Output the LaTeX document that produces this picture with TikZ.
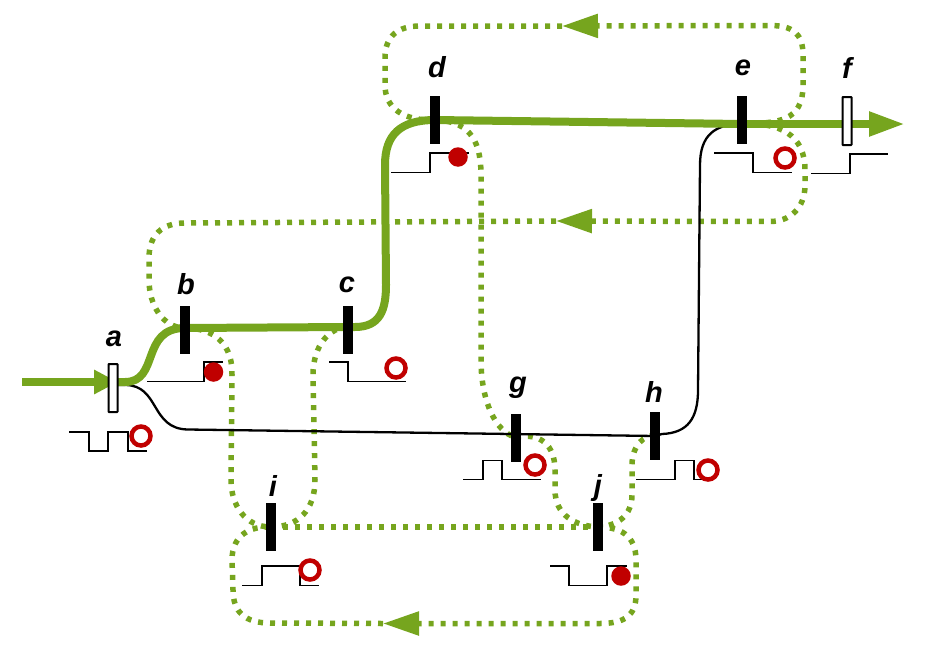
\documentclass[tikz,border=0pt]{standalone}
\usepackage{fontspec}
\setmainfont{Liberation Sans}
\usetikzlibrary{arrows.meta,backgrounds}
\definecolor{flowgreen}{HTML}{76A51E}
\definecolor{markred}{HTML}{C00000}
\tikzset{
  x=1pt,y=-1pt,
  gatebar/.style={fill=black,draw=none,minimum width=10pt,minimum height=48pt,inner sep=0pt,outer sep=0pt},
  openbar/.style={fill=white,draw=black,line width=2pt,minimum width=9pt,minimum height=48pt,inner sep=0pt,outer sep=0pt,rounded corners=0.5pt},
  lbl/.style={font=\fontsize{29}{29}\selectfont\bfseries\itshape,inner sep=0pt,text=black},
  mainflow/.style={draw=flowgreen,line width=8pt},
  thinflow/.style={draw=black,line width=2.3pt},
  dotflow/.style={draw=flowgreen,line width=5.5pt,dash pattern=on 5pt off 7pt},
  dottip/.style={-{Triangle[length=36pt,width=23pt,fill=flowgreen]}},
  wave/.style={draw=black,line width=1.3pt},
  openmark/.style={circle,draw=markred,line width=4.5pt,fill=white,minimum size=19pt,inner sep=0pt},
  fullmark/.style={circle,fill=markred,draw=none,minimum size=19.5pt,inner sep=0pt},
}
\begin{document}
\begin{tikzpicture}
\useasboundingbox (0,0) rectangle (928,653);
% transitions
\node[openbar] (a) at (113,388) {};
\node[gatebar] (b) at (185,330) {};
\node[gatebar] (c) at (348,330) {};
\node[gatebar] (d) at (435,119.5) {};
\node[gatebar] (e) at (742,119.5) {};
\node[openbar] (f) at (847,121) {};
\node[gatebar] (g) at (516,437.5) {};
\node[gatebar] (h) at (655,436) {};
\node[gatebar] (i) at (271,527) {};
\node[gatebar] (j) at (598,527) {};
% labels
\node[lbl] (la) at (114,339) {a};
\node[lbl] (lb) at (186,284) {b};
\node[lbl] (lc) at (347,285) {c};
\node[lbl] (ld) at (437,67) {d};
\node[lbl] (le) at (743,68) {e};
\node[lbl] (lf) at (847,68) {f};
\node[lbl] (lg) at (518,388) {g};
\node[lbl] (lh) at (654,392) {h};
\node[lbl] (li) at (273,486) {i};
\node[lbl] (lj) at (598,488) {j};
% free ends and arrow points
\coordinate (in) at (22,382);
\coordinate (out) at (905,124);
\coordinate (t1) at (562,26);
\coordinate (t2) at (556,221);
\coordinate (t3) at (383,623.5);
\coordinate (pa) at (118,382);
\coordinate (pb) at (185,328);
\coordinate (pc) at (348,327);
\coordinate (pd) at (435,120);
\coordinate (pe) at (742,124);
\begin{pgfonlayer}{background}
% dotted connectors
\draw[dotflow,dottip] (pe) .. controls (778,123) and (803,122) .. (803,85) -- (803,55)
  .. controls (803,33) and (792,25.5) .. (770,25.5) -- (t1);
\draw[dotflow] (t1) -- (420,26) .. controls (398,26) and (385,36) .. (385,58) -- (385,85)
  .. controls (385,108) and (403,121) .. (pd);
\draw[dotflow,dottip] (pe) .. controls (780,122) and (805,135) .. (805,170) -- (805,185)
  .. controls (805,208) and (790,221.5) .. (770,221.5) -- (t2);
\draw[dotflow] (t2) -- (185,223) .. controls (162,223) and (149,235) .. (149,258) -- (149,280)
  .. controls (149,305) and (163,328) .. (pb);
\draw[dotflow] (pb) .. controls (215,328) and (233,345) .. (232,375) -- (231,480)
  .. controls (231,505) and (245,527) .. (i.center);
\draw[dotflow] (pc) .. controls (330,327) and (313,345) .. (313,375) -- (315,480)
  .. controls (315,510) and (298,527) .. (i.center);
\draw[dotflow] (pd) .. controls (465,121) and (481,135) .. (481,175) -- (481,360)
  .. controls (481,400) and (495,432) .. (g.center);
\draw[dotflow] (g.center) .. controls (540,432) and (555,445) .. (555,470) -- (555,490)
  .. controls (555,515) and (575,526) .. (j.center);
\draw[dotflow] (h.center) .. controls (645,434) and (632,445) .. (632,465) -- (632,495)
  .. controls (632,515) and (618,526) .. (j.center);
\draw[dotflow,dottip] (j.center) .. controls (620,527) and (636,535) .. (636,560) -- (636,595)
  .. controls (636,615) and (625,623.5) .. (600,623.5) -- (t3);
\draw[dotflow] (t3) -- (270,623) .. controls (245,623) and (233,612) .. (233,590) -- (232,560)
  .. controls (232,535) and (250,526) .. (i.center);
\draw[dotflow] (i.center) -- (j.center);
% black branch
\draw[thinflow] (pa |- 0,385) -- (125,385) .. controls (160,385) and (150,429) .. (188,429.5)
  -- (h.center) -- (662,434) .. controls (688,433) and (698,418) .. (698,390) -- (700,165)
  .. controls (700,135) and (715,124) .. (pe);
% main flow
\draw[mainflow,-{Triangle[length=24pt,width=23pt,fill=flowgreen]}] (in) -- (pa);
\draw[mainflow] (pa) -- (125,382) .. controls (160,382) and (140,328) .. (pb)
  -- (pc) -- (355,327) .. controls (380,327) and (386,310) .. (386,285) -- (385,165)
  .. controls (385,135) and (400,120) .. (pd) -- (pe);
\draw[mainflow,-{Triangle[length=36pt,width=23pt,fill=flowgreen]}] (pe) -- (out);
\end{pgfonlayer}
% pulse waves
\draw[wave] (69,432) -- (89,432) -- (89,451) -- (108,451) -- (108,432) -- (128,432) -- (128,451) -- (147,451);
\draw[wave] (147,381.5) -- (204,381.5) -- (204,362) -- (223,362);
\draw[wave] (329,362) -- (348,362) -- (348,381.5) -- (406,381.5);
\draw[wave] (391,172.5) -- (430,172.5) -- (430,153) -- (469,153);
\draw[wave] (714,153) -- (753,153) -- (753,172.5) -- (792,172.5);
\draw[wave] (811,173.5) -- (850,173.5) -- (850,154) -- (888,154);
\draw[wave] (463,479.5) -- (483,479.5) -- (483,460.5) -- (502,460.5) -- (502,479.5) -- (541,479.5);
\draw[wave] (636,479.5) -- (675,479.5) -- (675,460.5) -- (694,460.5) -- (694,479.5) -- (713,479.5);
\draw[wave] (242,585.5) -- (262,585.5) -- (262,566) -- (300,566) -- (300,585.5) -- (319,585.5);
\draw[wave] (550,566) -- (569,566) -- (569,585.5) -- (607,585.5) -- (607,566) -- (627,566);
% marks
\node[openmark] (ma) at (141,436) {};
\node[fullmark] (mb) at (213.5,372) {};
\node[openmark] (mc) at (396,368) {};
\node[fullmark] (md) at (458,157) {};
\node[openmark] (me) at (785,158) {};
\node[openmark] (mg) at (535,465) {};
\node[openmark] (mh) at (708,470) {};
\node[openmark] (mi) at (310,570) {};
\node[fullmark] (mj) at (621,576) {};
\end{tikzpicture}
\end{document}
